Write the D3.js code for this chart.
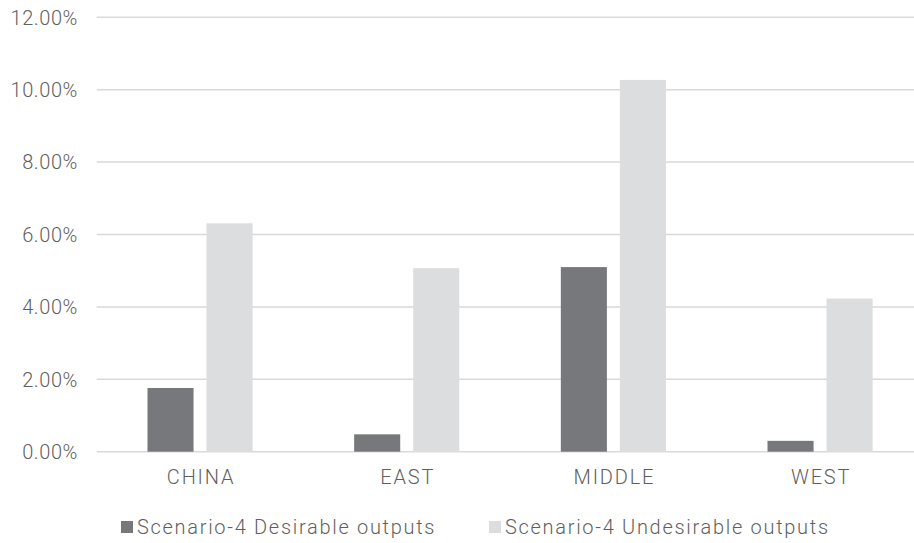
<!DOCTYPE html>
<html>
<head>
<meta charset="utf-8">
<script src="https://cdn.jsdelivr.net/npm/d3@7"></script>
<style>
  body { margin: 0; background: #fff; }
  text { font-family: Roboto, "Noto Sans", sans-serif; font-weight: 300; fill: #5f5f5f; }
</style>
</head>
<body>
<div class="chart"></div>
<script>
  // 数据
  var regions = ["CHINA", "EAST", "MIDDLE", "WEST"];
  var seriesNames = ["Scenario-4 Desirable outputs", "Scenario-4 Undesirable outputs"];
  var desirable = [1.76, 0.48, 5.10, 0.30];
  var undesirable = [6.31, 5.07, 10.27, 4.23];
  var yTicks = [0, 2, 4, 6, 8, 10, 12];
  var colors = ["#77787b", "#dcdddf"];

  var w = 914, h = 543;
  var svg = d3.select(".chart").append("svg")
    .attr("width", w)
    .attr("height", h);

  // 比例尺
  var x0 = d3.scaleBand().domain(regions).range([96.7, 923.4]);
  var x1 = d3.scaleBand().domain(seriesNames)
    .range([0, x0.bandwidth()])
    .paddingInner(0.22)
    .paddingOuter(0.86);
  var y = d3.scaleLinear().domain([0, 12]).range([451.7, 17.3]);

  // 网格线
  svg.append("g").selectAll("line")
    .data(yTicks)
    .enter().append("line")
    .attr("x1", 96.7)
    .attr("x2", w)
    .attr("y1", function(d) { return y(d); })
    .attr("y2", function(d) { return y(d); })
    .style("stroke", "#d9d9d9")
    .style("stroke-width", 1.5);

  // y轴文字
  svg.append("g").selectAll("text")
    .data(yTicks)
    .enter().append("text")
    .attr("x", 78)
    .attr("y", function(d) { return y(d); })
    .attr("dy", "0.36em")
    .attr("text-anchor", "end")
    .style("font-size", "20px")
    .style("letter-spacing", "0.6px")
    .text(function(d) { return d.toFixed(2) + "%"; });

  // 柱子
  var rows = regions.map(function(r, i) {
    return { region: r, values: [desirable[i], undesirable[i]] };
  });
  var groups = svg.append("g").selectAll("g")
    .data(rows)
    .enter().append("g")
    .attr("transform", function(d) { return "translate(" + x0(d.region) + ",0)"; });

  groups.selectAll("rect")
    .data(function(d) { return d.values.map(function(v, k) { return { key: seriesNames[k], value: v, k: k }; }); })
    .enter().append("rect")
    .attr("x", function(d) { return x1(d.key); })
    .attr("width", x1.bandwidth())
    .attr("y", function(d) { return y(d.value); })
    .attr("height", function(d) { return y(0) - y(d.value); })
    .style("fill", function(d) { return colors[d.k]; });

  // x轴文字
  svg.append("g").selectAll("text")
    .data(regions)
    .enter().append("text")
    .attr("x", function(d) { return x0(d) + x0.bandwidth() / 2 + 1; })
    .attr("y", 477)
    .attr("dy", "0.36em")
    .attr("text-anchor", "middle")
    .style("font-size", "20px")
    .style("letter-spacing", "1.8px")
    .text(function(d) { return d; });

  // 图例
  var legendX = [121, 489];
  var legend = svg.append("g").selectAll("g")
    .data(seriesNames)
    .enter().append("g")
    .attr("transform", function(d, i) { return "translate(" + legendX[i] + ",521)"; });
  legend.append("rect")
    .attr("width", 12)
    .attr("height", 12)
    .style("fill", function(d, i) { return colors[i]; });
  legend.append("text")
    .attr("x", 16)
    .attr("y", 6)
    .attr("dy", "0.36em")
    .style("font-size", "20px")
    .style("letter-spacing", "1.7px")
    .text(function(d) { return d; });
</script>
</body>
</html>
